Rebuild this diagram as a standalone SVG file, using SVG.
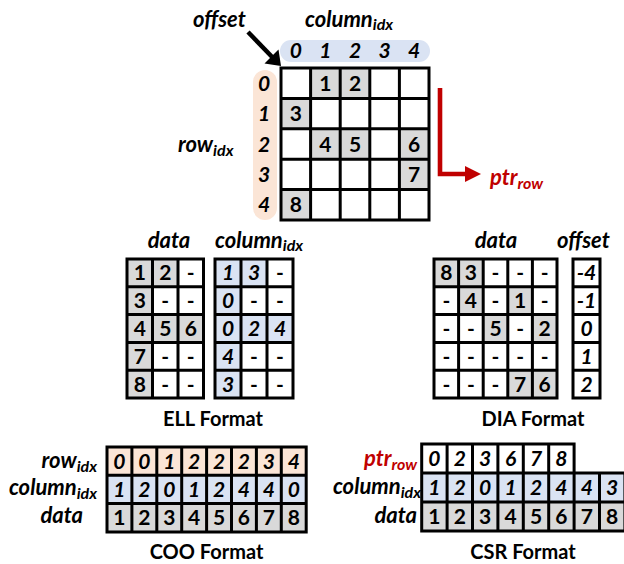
<svg xmlns="http://www.w3.org/2000/svg" width="624" height="564" viewBox="0 0 624 564">
  <style>
    text { font-family: Lato, "Open Sans", "Liberation Sans", sans-serif; font-weight: 700; }
    .n { font-size: 21px; text-anchor: middle; fill: #000; }
    .i { font-style: italic; }
    .lb { font-size: 22px; font-style: italic; fill: #000; }
    .red { fill: #c00000; }
    .sub { font-size: 16px; }
    .ttl { font-size: 20px; text-anchor: middle; fill: #000; }
    .g { fill: #d9d9d9; }
    .b { fill: #dae3f3; }
    .p { fill: #fbe5d6; }
    .w { fill: #ffffff; }
    .ln { fill: none; stroke: #000; stroke-width: 3; stroke-linecap: square; }
  </style>

  <!-- dense matrix -->
  <g id="matrix">
    <rect x="280" y="40" width="150" height="22" rx="11" class="b"/>
    <rect x="253" y="70" width="24" height="150" rx="12" class="p"/>
    <g class="n i">
      <text x="295.8" y="58">0</text><text x="325.4" y="58">1</text><text x="355" y="58">2</text><text x="384.6" y="58">3</text><text x="414.2" y="58">4</text>
      <text x="264" y="90.7">0</text><text x="264" y="121.1">1</text><text x="264" y="151.5">2</text><text x="264" y="181.9">3</text><text x="264" y="212.3">4</text>
    </g>
    <rect x="281" y="68" width="148" height="152" class="w"/>
    <rect x="310.6" y="68" width="29.6" height="30.4" class="g"/>
    <rect x="340.2" y="68" width="29.6" height="30.4" class="g"/>
    <rect x="281" y="98.4" width="29.6" height="30.4" class="g"/>
    <rect x="310.6" y="128.8" width="29.6" height="30.4" class="g"/>
    <rect x="340.2" y="128.8" width="29.6" height="30.4" class="g"/>
    <rect x="399.4" y="128.8" width="29.6" height="30.4" class="g"/>
    <rect x="399.4" y="159.2" width="29.6" height="30.4" class="g"/>
    <rect x="281" y="189.6" width="29.6" height="30.4" class="g"/>
    <path class="ln" d="M281 68H429M281 98.4H429M281 128.8H429M281 159.2H429M281 189.6H429M281 220H429M281 68V220M310.6 68V220M340.2 68V220M369.8 68V220M399.4 68V220M429 68V220"/>
    <g class="n">
      <text x="325.4" y="90.7">1</text><text x="355" y="90.7">2</text>
      <text x="295.8" y="121.1">3</text>
      <text x="325.4" y="151.5">4</text><text x="355" y="151.5">5</text><text x="414.2" y="151.5">6</text>
      <text x="414.2" y="181.9">7</text>
      <text x="295.8" y="212.3">8</text>
    </g>
    <text class="lb" x="193" y="27">offset</text>
    <text class="lb" x="305" y="27">column<tspan class="sub" dy="3">idx</tspan></text>
    <text class="lb" x="178" y="152">row<tspan class="sub" dy="4">idx</tspan></text>
    <text class="lb red" x="490" y="185">ptr<tspan class="sub" dy="4">row</tspan></text>
  </g>

  <!-- ELL format -->
  <g id="ell">
    <text class="lb" x="169" y="248" text-anchor="middle">data</text>
    <text class="lb" x="215" y="248">column<tspan class="sub" dy="3">idx</tspan></text>
    <rect x="127" y="259" width="76.5" height="139" class="w"/>
    <rect x="127" y="259" width="51" height="27.8" class="g"/>
    <rect x="127" y="286.8" width="25.5" height="27.8" class="g"/>
    <rect x="127" y="314.6" width="76.5" height="27.8" class="g"/>
    <rect x="127" y="342.4" width="25.5" height="55.6" class="g"/>
    <path class="ln" d="M127 259H203.5M127 286.8H203.5M127 314.6H203.5M127 342.4H203.5M127 370.2H203.5M127 398H203.5M127 259V398M152.5 259V398M178 259V398M203.5 259V398"/>
    <g class="n">
      <text x="139.75" y="280.4">1</text><text x="165.25" y="280.4">2</text><text x="190.75" y="280.4">-</text>
      <text x="139.75" y="308.2">3</text><text x="165.25" y="308.2">-</text><text x="190.75" y="308.2">-</text>
      <text x="139.75" y="336">4</text><text x="165.25" y="336">5</text><text x="190.75" y="336">6</text>
      <text x="139.75" y="363.8">7</text><text x="165.25" y="363.8">-</text><text x="190.75" y="363.8">-</text>
      <text x="139.75" y="391.6">8</text><text x="165.25" y="391.6">-</text><text x="190.75" y="391.6">-</text>
    </g>
    <rect x="215" y="259" width="78" height="139" class="w"/>
    <rect x="215" y="259" width="52" height="27.8" class="b"/>
    <rect x="215" y="286.8" width="26" height="27.8" class="b"/>
    <rect x="215" y="314.6" width="78" height="27.8" class="b"/>
    <rect x="215" y="342.4" width="26" height="55.6" class="b"/>
    <path class="ln" d="M215 259H293M215 286.8H293M215 314.6H293M215 342.4H293M215 370.2H293M215 398H293M215 259V398M241 259V398M267 259V398M293 259V398"/>
    <g class="n">
      <text class="i" x="228" y="280.4">1</text><text class="i" x="254" y="280.4">3</text><text x="280" y="280.4">-</text>
      <text class="i" x="228" y="308.2">0</text><text x="254" y="308.2">-</text><text x="280" y="308.2">-</text>
      <text class="i" x="228" y="336">0</text><text class="i" x="254" y="336">2</text><text class="i" x="280" y="336">4</text>
      <text class="i" x="228" y="363.8">4</text><text x="254" y="363.8">-</text><text x="280" y="363.8">-</text>
      <text class="i" x="228" y="391.6">3</text><text x="254" y="391.6">-</text><text x="280" y="391.6">-</text>
    </g>
    <text class="ttl" x="213" y="426">ELL Format</text>
  </g>

  <!-- DIA format -->
  <g id="dia">
    <text class="lb" x="496" y="248" text-anchor="middle">data</text>
    <text class="lb" x="557" y="248">offset</text>
    <rect x="434" y="259" width="123" height="139" class="w"/>
    <rect x="434" y="259" width="49.2" height="27.8" class="g"/>
    <rect x="458.6" y="286.8" width="24.6" height="27.8" class="g"/>
    <rect x="507.8" y="286.8" width="24.6" height="27.8" class="g"/>
    <rect x="483.2" y="314.6" width="24.6" height="27.8" class="g"/>
    <rect x="532.4" y="314.6" width="24.6" height="27.8" class="g"/>
    <rect x="507.8" y="370.2" width="49.2" height="27.8" class="g"/>
    <path class="ln" d="M434 259H557M434 286.8H557M434 314.6H557M434 342.4H557M434 370.2H557M434 398H557M434 259V398M458.6 259V398M483.2 259V398M507.8 259V398M532.4 259V398M557 259V398"/>
    <g class="n">
      <text x="446.3" y="280.4">8</text><text x="470.9" y="280.4">3</text><text x="495.5" y="280.4">-</text><text x="520.1" y="280.4">-</text><text x="544.7" y="280.4">-</text>
      <text x="446.3" y="308.2">-</text><text x="470.9" y="308.2">4</text><text x="495.5" y="308.2">-</text><text x="520.1" y="308.2">1</text><text x="544.7" y="308.2">-</text>
      <text x="446.3" y="336">-</text><text x="470.9" y="336">-</text><text x="495.5" y="336">5</text><text x="520.1" y="336">-</text><text x="544.7" y="336">2</text>
      <text x="446.3" y="363.8">-</text><text x="470.9" y="363.8">-</text><text x="495.5" y="363.8">-</text><text x="520.1" y="363.8">-</text><text x="544.7" y="363.8">-</text>
      <text x="446.3" y="391.6">-</text><text x="470.9" y="391.6">-</text><text x="495.5" y="391.6">-</text><text x="520.1" y="391.6">7</text><text x="544.7" y="391.6">6</text>
    </g>
    <rect x="573" y="259" width="27" height="139" class="w"/>
    <path class="ln" d="M573 259H600M573 286.8H600M573 314.6H600M573 342.4H600M573 370.2H600M573 398H600M573 259V398M600 259V398"/>
    <g class="n i">
      <text x="586.5" y="280.4">-4</text><text x="586.5" y="308.2">-1</text><text x="586.5" y="336">0</text><text x="586.5" y="363.8">1</text><text x="586.5" y="391.6">2</text>
    </g>
    <text class="ttl" x="533" y="426">DIA Format</text>
  </g>

  <!-- COO format -->
  <g id="coo">
    <text class="lb" x="97" y="468" text-anchor="end">row<tspan class="sub" dy="4">idx</tspan></text>
    <text class="lb" x="97" y="495" text-anchor="end">column<tspan class="sub" dy="4">idx</tspan></text>
    <text class="lb" x="83" y="523" text-anchor="end">data</text>
    <rect x="107" y="447" width="199.2" height="28.3" class="p"/>
    <rect x="107" y="475.3" width="199.2" height="28.3" class="b"/>
    <rect x="107" y="503.6" width="199.2" height="28.3" class="g"/>
    <path class="ln" d="M107 447H306.2M107 475.3H306.2M107 503.6H306.2M107 531.9H306.2M107 447V531.9M131.9 447V531.9M156.8 447V531.9M181.7 447V531.9M206.6 447V531.9M231.5 447V531.9M256.4 447V531.9M281.3 447V531.9M306.2 447V531.9"/>
    <g class="n i">
      <text x="119.45" y="468.7">0</text><text x="144.35" y="468.7">0</text><text x="169.25" y="468.7">1</text><text x="194.15" y="468.7">2</text><text x="219.05" y="468.7">2</text><text x="243.95" y="468.7">2</text><text x="268.85" y="468.7">3</text><text x="293.75" y="468.7">4</text>
      <text x="119.45" y="497">1</text><text x="144.35" y="497">2</text><text x="169.25" y="497">0</text><text x="194.15" y="497">1</text><text x="219.05" y="497">2</text><text x="243.95" y="497">4</text><text x="268.85" y="497">4</text><text x="293.75" y="497">0</text>
    </g>
    <g class="n">
      <text x="119.45" y="525.3">1</text><text x="144.35" y="525.3">2</text><text x="169.25" y="525.3">3</text><text x="194.15" y="525.3">4</text><text x="219.05" y="525.3">5</text><text x="243.95" y="525.3">6</text><text x="268.85" y="525.3">7</text><text x="293.75" y="525.3">8</text>
    </g>
    <text class="ttl" x="206.5" y="559">COO Format</text>
  </g>

  <!-- CSR format -->
  <g id="csr">
    <text class="lb red" x="417" y="466" text-anchor="end">ptr<tspan class="sub" dy="4">row</tspan></text>
    <text class="lb" x="421" y="494" text-anchor="end">column<tspan class="sub" dy="4">idx</tspan></text>
    <text class="lb" x="417" y="523" text-anchor="end">data</text>
    <rect x="421.7" y="444" width="152.4" height="29" class="w"/>
    <rect x="421.7" y="473" width="205" height="29" class="b"/>
    <rect x="421.7" y="502" width="205" height="29" class="g"/>
    <path class="ln" d="M421.7 444H574.1M421.7 473H626M421.7 502H626M421.7 531H626M421.7 444V531M447.1 444V531M472.5 444V531M497.9 444V531M523.3 444V531M548.7 444V531M574.1 444V531M599.5 473V531M624.9 473V531"/>
    <g class="n i">
      <text x="434.4" y="466">0</text><text x="459.8" y="466">2</text><text x="485.2" y="466">3</text><text x="510.6" y="466">6</text><text x="536" y="466">7</text><text x="561.4" y="466">8</text>
      <text x="434.4" y="495">1</text><text x="459.8" y="495">2</text><text x="485.2" y="495">0</text><text x="510.6" y="495">1</text><text x="536" y="495">2</text><text x="561.4" y="495">4</text><text x="586.8" y="495">4</text><text x="612.2" y="495">3</text>
    </g>
    <g class="n">
      <text x="434.4" y="524">1</text><text x="459.8" y="524">2</text><text x="485.2" y="524">3</text><text x="510.6" y="524">4</text><text x="536" y="524">5</text><text x="561.4" y="524">6</text><text x="586.8" y="524">7</text><text x="612.2" y="524">8</text>
    </g>
    <text class="ttl" x="523" y="559">CSR Format</text>
  </g>

  <!-- connectors -->
  <g id="connectors">
    <path d="M248 32L277 62" stroke="#000" stroke-width="4.5" fill="none"/>
    <path d="M281 66L264.5 63.5L278.5 49.5z" fill="#000"/>
    <path d="M440 88V174H466" stroke="#c00000" stroke-width="4.6" fill="none"/>
    <path d="M465 166L481 174L465 182z" fill="#c00000"/>
  </g>
</svg>
